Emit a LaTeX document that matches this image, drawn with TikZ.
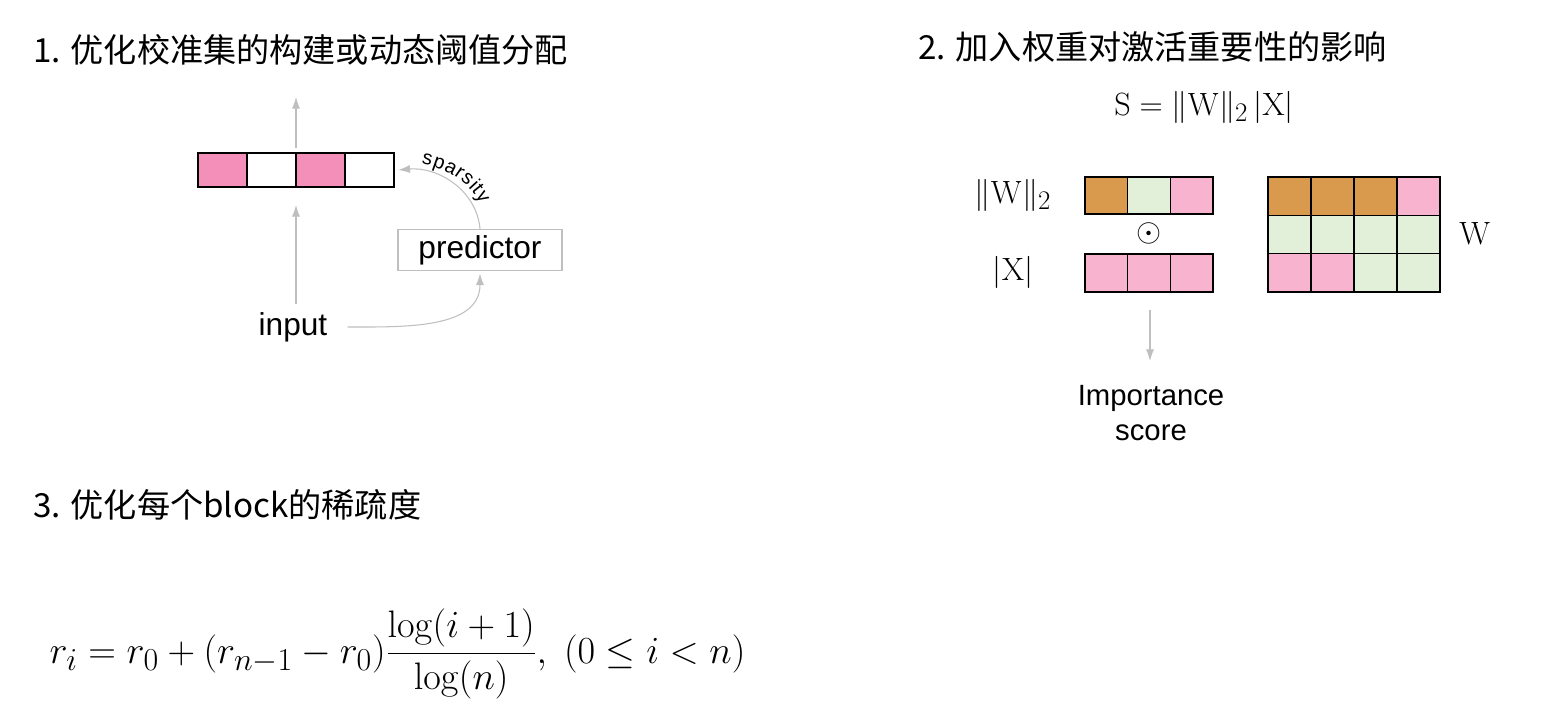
\documentclass[tikz,border=0pt]{standalone}
\usepackage{amsmath}
\usepackage[no-math]{fontspec}
\setmainfont{Liberation Sans}
\newfontfamily\cjkfont{Noto Sans CJK SC}
\usetikzlibrary{arrows.meta,positioning,decorations.text}
\definecolor{cellpink}{RGB}{244,143,185}
\definecolor{softpink}{RGB}{248,180,207}
\definecolor{wgtorange}{RGB}{217,154,78}
\definecolor{softgreen}{RGB}{226,240,217}
\definecolor{arrowgray}{RGB}{191,191,191}

\begin{document}
\begin{tikzpicture}[
    x=0.03cm, y=-0.03cm,
    heading/.style={font=\cjkfont\fontsize{28.3}{32}\selectfont, anchor=west, inner sep=0pt},
    label/.style={font=\fontsize{27}{32}\selectfont, inner sep=0pt},
    mathlabel/.style={font=\fontsize{24.88}{30}\selectfont, inner sep=0pt, scale=1.105},
    cell/.style={draw=black, line width=1.3pt, minimum width=#1*0.03cm, inner sep=0pt},
    arrow/.style={-{Latex[length=10pt,width=7pt]}, draw=arrowgray, line width=0.9pt},
]
    \useasboundingbox (0,0) rectangle (1561,725);

    % Part 1: headings
    \node[heading] (h1) at (33,50) {1. 优化校准集的构建或动态阈值分配};
    \node[heading] (h2) at (918,47) {2. 加入权重对激活重要性的影响};
    \node[heading] (h3) at (33,505) {3. 优化每个block的稀疏度};

    % Part 1: activation vector
    \foreach \k/\c in {1/cellpink, 2/white, 3/cellpink, 4/white}
        \node[cell=49, minimum height=34*0.03cm, fill=\c] (v\k) at (198+49*\k-24.5,170) {};
    \coordinate (vtop) at (296,148);
    \coordinate (vout) at (296,97);
    \coordinate (vbot) at (296,205);
    \draw[arrow] (vtop) -- (vout);

    \node[label] (input) at (293,327) {input};
    \node[draw=arrowgray, line width=1pt, minimum width=164*0.03cm, minimum height=41*0.03cm,
          font=\fontsize{27}{32}\selectfont, inner sep=0pt] (pred) at (480,250) {predictor};

    \draw[arrow] (input.north -| vbot) ++(0,-8) coordinate (inup) -- (vbot);
    \draw[arrow] (input.east) ++(20,0) to[out=0, in=-90] ([yshift=-2]pred.south);
    \draw[arrow] (pred.north) to[out=95, in=5] ([xshift=3]v4.east);
    \path[decorate, decoration={text along path, text align=center, raise=6pt,
          text={|\fontsize{17}{20}\selectfont|sparsity}}]
        ([xshift=3]v4.east) to[out=5, in=95] (pred.north);

    % Part 2: formula and vectors
    \node[mathlabel] (sform) at (1204,107) {$\mathrm{S} = \|\mathrm{W}\|_2\,|\mathrm{X}|$};
    \node[mathlabel] (wnorm) at (1013,195) {$\|\mathrm{W}\|_2$};
    \node[mathlabel] (xabs) at (1013,272) {$|\mathrm{X}|$};

    \foreach \k/\c in {1/wgtorange, 2/softgreen, 3/softpink}
        \node[cell=42.7, minimum height=37*0.03cm, fill=\c] (w\k) at (1085+42.7*\k-21.35,195.5) {};
    \foreach \k in {1,2,3}
        \node[cell=42.7, minimum height=38*0.03cm, fill=softpink] (x\k) at (1085+42.7*\k-21.35,273) {};
    \node[mathlabel] (odot) at (1149,233) {$\odot$};

    % weight matrix
    \foreach \c [count=\k] in {wgtorange, wgtorange, wgtorange, softpink}
        \node[cell=43, minimum height=38.3*0.03cm, fill=\c] (m1\k) at (1268+43*\k-21.5,196.2) {};
    \foreach \c [count=\k] in {softgreen, softgreen, softgreen, softgreen}
        \node[cell=43, minimum height=38.3*0.03cm, fill=\c] (m2\k) at (1268+43*\k-21.5,234.5) {};
    \foreach \c [count=\k] in {softpink, softpink, softgreen, softgreen}
        \node[cell=43, minimum height=38.3*0.03cm, fill=\c] (m3\k) at (1268+43*\k-21.5,272.8) {};
    \node[mathlabel] (wlab) at (1475,233) {$\mathrm{W}$};

    \node[font=\fontsize{25}{30}\selectfont, align=center, inner sep=0pt] (score) at (1151,413) {Importance\\score};
    \coordinate (sstart) at (1150,310);
    \coordinate (send) at (1150,361);
    \draw[arrow] (sstart) -- (send);

    % Part 3: sparsity schedule
    \node[font=\fontsize{24.88}{30}\selectfont, inner sep=0pt, anchor=base] (rform) at (397.5,663)
        {\scalebox{1.314}{$r_i = r_0 + (r_{n-1} - r_0)\dfrac{\log(i+1)}{\log(n)},\ (0 \le i < n)$}};
\end{tikzpicture}
\end{document}
